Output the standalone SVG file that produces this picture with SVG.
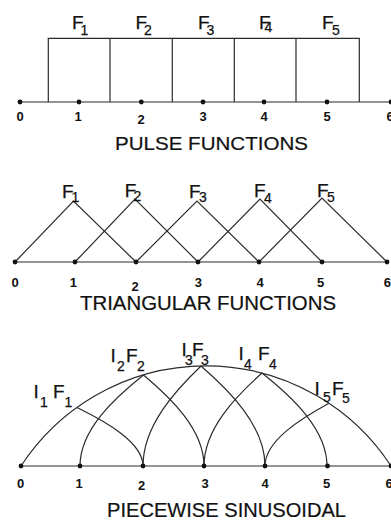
<svg xmlns="http://www.w3.org/2000/svg" width="391" height="525" viewBox="0 0 391 525">
<style>
  .ln { fill: none; stroke: #2b2b2b; stroke-width: 1.2; stroke-linejoin: miter; }
  .dot { fill: #111; }
  .lbl { font-family: "Liberation Sans", Arial, sans-serif; font-size: 19px; fill: #111; stroke: #111; stroke-width: 0.25; }
  .sub { font-size: 14px; }
  .num { font-family: "Liberation Sans", Arial, sans-serif; font-size: 13px; font-weight: bold; fill: #111; text-anchor: middle; }
  .ttl { font-family: "Liberation Sans", Arial, sans-serif; fill: #111; stroke: #111; stroke-width: 0.2; }
</style>
<rect width="391" height="525" fill="#fff"/>

<!-- PULSE FUNCTIONS -->
<g id="pulse">
  <g id="pulse-lines">
    <line class="ln" x1="20" y1="102" x2="391" y2="102"/>
    <polyline class="ln" points="48.3,102 48.3,38.3 359.3,38.3 359.3,102"/>
    <line class="ln" x1="110" y1="38.3" x2="110" y2="102"/>
    <line class="ln" x1="172.3" y1="38.3" x2="172.3" y2="102"/>
    <line class="ln" x1="234.3" y1="38.3" x2="234.3" y2="102"/>
    <line class="ln" x1="296" y1="38.3" x2="296" y2="102"/>
  </g>
  <g id="pulse-dots">
    <circle class="dot" cx="20" cy="102" r="2.4"/>
    <circle class="dot" cx="79" cy="102" r="2.4"/>
    <circle class="dot" cx="141.3" cy="102" r="2.4"/>
    <circle class="dot" cx="203" cy="102" r="2.4"/>
    <circle class="dot" cx="264" cy="102" r="2.4"/>
    <circle class="dot" cx="327" cy="102" r="2.4"/>
    <circle class="dot" cx="391" cy="102" r="2.4"/>
  </g>
  <g id="pulse-labels">
    <text class="lbl"><tspan x="72" y="28.5">F</tspan><tspan class="sub" x="80.5" y="34.5">1</tspan></text>
    <text class="lbl"><tspan x="135.5" y="28.5">F</tspan><tspan class="sub" x="144" y="35">2</tspan></text>
    <text class="lbl"><tspan x="198" y="28.5">F</tspan><tspan class="sub" x="206.5" y="35">3</tspan></text>
    <text class="lbl"><tspan x="259" y="28.5">F</tspan><tspan class="sub" x="264.5" y="32">4</tspan></text>
    <text class="lbl"><tspan x="322" y="28.5">F</tspan><tspan class="sub" x="332" y="34.5">5</tspan></text>
  </g>
  <g id="pulse-axis-numbers">
    <text class="num" x="20" y="120.5">0</text>
    <text class="num" x="78" y="120.5">1</text>
    <text class="num" x="141" y="124">2</text>
    <text class="num" x="203" y="120.5">3</text>
    <text class="num" x="264" y="120.5">4</text>
    <text class="num" x="327" y="120.5">5</text>
    <text class="num" x="390" y="120.5">6</text>
  </g>
  <text class="ttl" x="115" y="149.5" font-size="19" textLength="193" lengthAdjust="spacingAndGlyphs">PULSE FUNCTIONS</text>
</g>

<!-- TRIANGULAR FUNCTIONS -->
<g id="triangular">
  <g id="tri-lines">
    <line class="ln" x1="15" y1="262" x2="387" y2="262"/>
    <polyline class="ln" points="15,262 73.5,201 136,262"/>
    <polyline class="ln" points="75,262 135,199 198,262"/>
    <polyline class="ln" points="136,262 197,201 259,262"/>
    <polyline class="ln" points="198,262 260,199 322,262"/>
    <polyline class="ln" points="259,262 322,198 387,262"/>
  </g>
  <g id="tri-dots">
    <circle class="dot" cx="15" cy="262" r="2.4"/>
    <circle class="dot" cx="75" cy="262" r="2.4"/>
    <circle class="dot" cx="136" cy="262" r="2.4"/>
    <circle class="dot" cx="198" cy="262" r="2.4"/>
    <circle class="dot" cx="259" cy="262" r="2.4"/>
    <circle class="dot" cx="322" cy="262" r="2.4"/>
    <circle class="dot" cx="387" cy="262" r="2.4"/>
  </g>
  <g id="tri-labels">
    <text class="lbl"><tspan x="62" y="197.5">F</tspan><tspan class="sub" x="71.5" y="202">1</tspan></text>
    <text class="lbl"><tspan x="124.8" y="196.5">F</tspan><tspan class="sub" x="133.5" y="201">2</tspan></text>
    <text class="lbl"><tspan x="189" y="197.5">F</tspan><tspan class="sub" x="199" y="202">3</tspan></text>
    <text class="lbl"><tspan x="254" y="196.5">F</tspan><tspan class="sub" x="264" y="203">4</tspan></text>
    <text class="lbl"><tspan x="317" y="196.5">F</tspan><tspan class="sub" x="327" y="202">5</tspan></text>
  </g>
  <g id="tri-axis-numbers">
    <text class="num" x="15" y="287">0</text>
    <text class="num" x="73.3" y="287">1</text>
    <text class="num" x="135" y="290.7">2</text>
    <text class="num" x="198.3" y="287">3</text>
    <text class="num" x="260" y="287">4</text>
    <text class="num" x="320.7" y="287">5</text>
    <text class="num" x="387.3" y="287">6</text>
  </g>
  <text class="ttl" x="80" y="309.5" font-size="19.5" textLength="256" lengthAdjust="spacingAndGlyphs">TRIANGULAR FUNCTIONS</text>
</g>

<!-- PIECEWISE SINUSOIDAL -->
<g id="sinusoidal">
  <g id="sin-lines">
    <line class="ln" x1="21" y1="466" x2="391" y2="466"/>
    <path class="ln" d="M21,466 A221,221 0 0 1 391,466"/>
    <path class="ln" d="M143,466 C143,442.6 106.7,422.1 77,407.5"/>
    <path class="ln" d="M80,466 C80,429.6 114.9,397.8 143.5,375 C170.7,397.8 204,429.6 204,466"/>
    <path class="ln" d="M143,466 C143,426 174.9,391 201,366 C229.8,391 265,426 265,466"/>
    <path class="ln" d="M204,466 C204,428.8 235.9,396.3 262,373 C291.3,396.3 327,428.8 327,466"/>
    <path class="ln" d="M265,466 C265,440.9 300.2,419 329,403.3"/>
  </g>
  <g id="sin-dots">
    <circle class="dot" cx="21" cy="466" r="2.4"/>
    <circle class="dot" cx="80" cy="466" r="2.4"/>
    <circle class="dot" cx="143" cy="466" r="2.4"/>
    <circle class="dot" cx="204" cy="466" r="2.4"/>
    <circle class="dot" cx="265" cy="466" r="2.4"/>
    <circle class="dot" cx="327.5" cy="466" r="2.4"/>
    <circle class="dot" cx="391" cy="466" r="2.4"/>
  </g>
  <g id="sin-labels">
    <text class="lbl"><tspan x="33.5" y="398">I</tspan><tspan class="sub" x="40" y="407">1</tspan><tspan x="53" y="397.5">F</tspan><tspan class="sub" x="64.5" y="407">1</tspan></text>
    <text class="lbl"><tspan x="110.5" y="362">I</tspan><tspan class="sub" x="117" y="371">2</tspan><tspan x="126" y="362">F</tspan><tspan class="sub" x="137" y="371">2</tspan></text>
    <text class="lbl"><tspan x="181.5" y="356">I</tspan><tspan class="sub" x="185" y="364.5">3</tspan><tspan x="192" y="356">F</tspan><tspan class="sub" x="201" y="364.5">3</tspan></text>
    <text class="lbl"><tspan x="238.5" y="360">I</tspan><tspan class="sub" x="244" y="369">4</tspan><tspan x="258" y="360">F</tspan><tspan class="sub" x="269" y="369">4</tspan></text>
    <text class="lbl"><tspan x="314.5" y="395">I</tspan><tspan class="sub" x="323" y="402">5</tspan><tspan x="332" y="395">F</tspan><tspan class="sub" x="342" y="403">5</tspan></text>
  </g>
  <g id="sin-axis-numbers">
    <text class="num" x="20.7" y="487.5">0</text>
    <text class="num" x="79" y="487.5">1</text>
    <text class="num" x="141.7" y="490">2</text>
    <text class="num" x="205" y="487.5">3</text>
    <text class="num" x="265" y="487.5">4</text>
    <text class="num" x="326.7" y="487.5">5</text>
    <text class="num" x="389" y="487.5">6</text>
  </g>
  <text class="ttl" x="107" y="516.5" font-size="20" textLength="239" lengthAdjust="spacingAndGlyphs">PIECEWISE SINUSOIDAL</text>
</g>
</svg>
